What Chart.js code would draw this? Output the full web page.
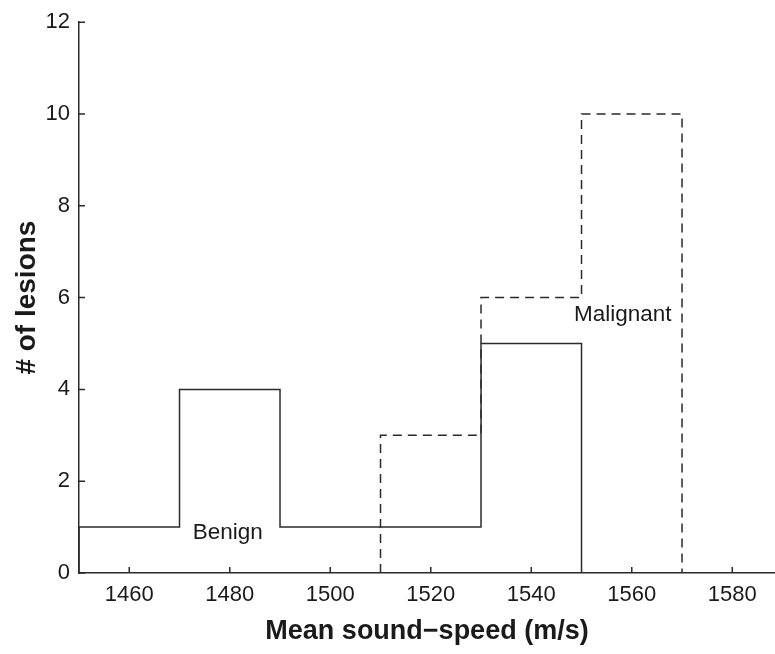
<!DOCTYPE html>
<html>
<head>
<meta charset="utf-8">
<script src="https://cdn.jsdelivr.net/npm/chart.js@4/dist/chart.umd.min.js"></script>
<style>
  html, body { margin: 0; padding: 0; background: #fff; }
  #wrap { width: 775px; height: 654px; }
</style>
</head>
<body>
<div id="wrap"><canvas id="myChart"></canvas></div>
<script>
// bin edges and counts
var benignEdges = [1450, 1470, 1490, 1510, 1530, 1550];
var benignCounts = [1, 4, 1, 1, 5];
var malignantEdges = [1510, 1530, 1550, 1570];
var malignantCounts = [3, 6, 10];
// tick labels
var xTicks = [1460, 1480, 1500, 1520, 1540, 1560, 1580];
var yTicks = [0, 2, 4, 6, 8, 10, 12];
// text labels inside the plot (data coords)
var labelNames = ["Benign", "Malignant"];
var labelX = [1479.6, 1558.2];
var labelY = [0.87, 5.63];

var lineColor = "#2a2a2a";

// turn edges + counts into a step outline starting/ending at 0
function outline(edges, counts) {
  var pts = [{x: edges[0], y: 0}, {x: edges[0], y: counts[0]}];
  for (var i = 1; i < counts.length; i++) {
    pts.push({x: edges[i], y: counts[i]});
  }
  pts.push({x: edges[edges.length - 1], y: 0});
  return pts;
}

// inward tick marks + text labels
var extras = {
  id: 'extras',
  afterDraw: function(chart) {
    var ctx = chart.ctx;
    var xs = chart.scales.x, ys = chart.scales.y;
    var area = chart.chartArea;
    ctx.save();
    ctx.strokeStyle = lineColor;
    ctx.lineWidth = 1.5;
    ctx.beginPath();
    xTicks.forEach(function(v) {
      var px = xs.getPixelForValue(v);
      ctx.moveTo(px, area.bottom);
      ctx.lineTo(px, area.bottom - 6);
    });
    yTicks.forEach(function(v) {
      var py = ys.getPixelForValue(v);
      ctx.moveTo(area.left, py);
      ctx.lineTo(area.left + 6, py);
    });
    ctx.stroke();
    ctx.fillStyle = "#1a1a1a";
    ctx.font = "22.5px 'Liberation Sans', Arial, sans-serif";
    ctx.textAlign = "center";
    ctx.textBaseline = "middle";
    for (var i = 0; i < labelNames.length; i++) {
      ctx.fillText(labelNames[i], xs.getPixelForValue(labelX[i]), ys.getPixelForValue(labelY[i]));
    }
    ctx.restore();
  }
};

var ctx = document.getElementById("myChart");
var myChart = new Chart(ctx, {
  type: 'line',
  data: {
    datasets: [
      {
        label: "Benign",
        data: outline(benignEdges, benignCounts),
        borderColor: lineColor,
        borderWidth: 1.5,
        stepped: 'before',
        pointRadius: 0,
        fill: false
      },
      {
        label: "Malignant",
        data: outline(malignantEdges, malignantCounts),
        borderColor: lineColor,
        borderWidth: 1.5,
        borderDash: [9, 6],
        stepped: 'before',
        pointRadius: 0,
        fill: false
      }
    ]
  },
  options: {
    responsive: true,
    maintainAspectRatio: false,
    animation: false,
    layout: { padding: { top: 17, right: 0, left: 0, bottom: 0 } },
    plugins: {
      legend: { display: false },
      tooltip: { enabled: false }
    },
    scales: {
      x: {
        type: 'linear',
        min: 1450,
        max: 1588.5,
        afterBuildTicks: function(scale) {
          scale.ticks = xTicks.map(function(v) { return {value: v}; });
        },
        afterFit: function(scale) { scale.height = 81; },
        grid: { display: false, drawTicks: false },
        border: { display: true, color: lineColor, width: 1.5 },
        ticks: {
          padding: 9,
          color: "#1a1a1a",
          maxRotation: 0,
          callback: function(v) { return String(v); },
          font: { family: "'Liberation Sans', Arial, sans-serif", size: 22 }
        },
        title: {
          display: true,
          text: "Mean sound\u2212speed (m/s)",
          color: "#1a1a1a",
          padding: { top: 0, bottom: 6 },
          font: { family: "'Liberation Sans', Arial, sans-serif", size: 27, weight: 'bold' }
        }
      },
      y: {
        min: 0,
        max: 12,
        afterBuildTicks: function(scale) {
          scale.ticks = yTicks.map(function(v) { return {value: v}; });
        },
        afterFit: function(scale) { scale.width = 79; },
        grid: { display: false, drawTicks: false },
        border: { display: true, color: lineColor, width: 1.5 },
        ticks: {
          padding: 9,
          color: "#1a1a1a",
          font: { family: "'Liberation Sans', Arial, sans-serif", size: 22 }
        },
        title: {
          display: true,
          text: "# of lesions",
          color: "#1a1a1a",
          padding: { top: 10, bottom: 0 },
          font: { family: "'Liberation Sans', Arial, sans-serif", size: 28, weight: 'bold' }
        }
      }
    }
  },
  plugins: [extras]
});
</script>
</body>
</html>
